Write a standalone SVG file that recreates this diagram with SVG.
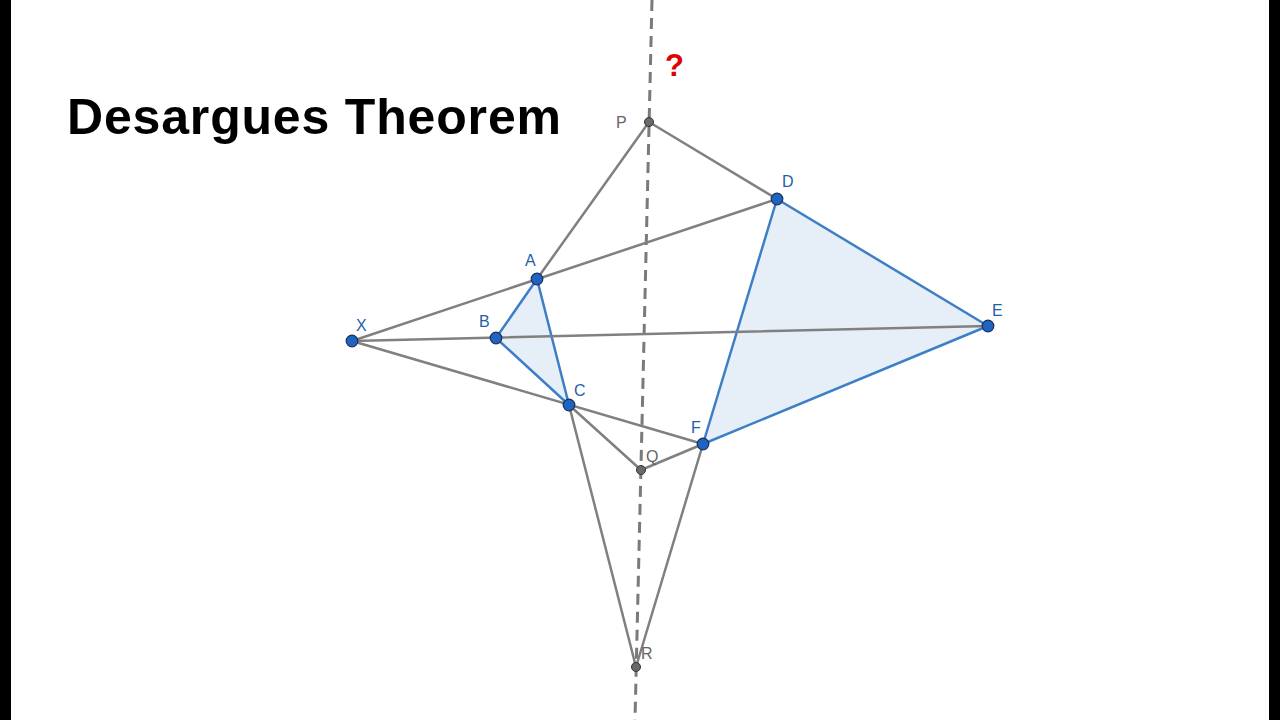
<svg xmlns="http://www.w3.org/2000/svg" width="1280" height="720" viewBox="0 0 1280 720">
  <style>
    .bg { fill: #ffffff; }
    .bar { fill: #000000; }
    .title { font-family: "Liberation Sans", Arial, sans-serif; font-weight: bold; font-size: 50px; fill: #000000; }
    .q { font-family: "Liberation Sans", Arial, sans-serif; font-weight: bold; font-size: 31px; fill: #e00000; }
    .tri { fill: #e6eef8; stroke: #3d7fc6; stroke-width: 2.5; stroke-linejoin: round; }
    .gl { stroke: #808080; stroke-width: 2.5; fill: none; stroke-linecap: round; }
    .dash { stroke: #7a7a7a; stroke-width: 3; stroke-dasharray: 11 7; fill: none; }
    .bp { fill: #1f63c3; stroke: #1a2f55; stroke-width: 1.2; }
    .gp { fill: #6a6a6a; stroke: #333333; stroke-width: 1; }
    .bl { font-family: "Liberation Sans", Arial, sans-serif; font-size: 16px; fill: #1f5fa8; }
    .gl-t { font-family: "Liberation Sans", Arial, sans-serif; font-size: 16px; fill: #666666; }
  </style>
  <rect class="bg" x="0" y="0" width="1280" height="720"/>
  <rect class="bar" x="0" y="0" width="11" height="720"/>
  <rect class="bar" x="1269" y="0" width="11" height="720"/>

  <text class="title" x="67" y="134" textLength="494">Desargues Theorem</text>
  <text class="q" x="665" y="76">?</text>

  <g id="triangles">
    <polygon id="triangle-ABC" class="tri" points="537,279 496,338 569,405"/>
    <polygon id="triangle-DEF" class="tri" points="777,199 988,326 703,444"/>
  </g>

  <g id="connectors">
    <line class="dash" x1="652" y1="0" x2="635" y2="720"/>
    <line class="gl" x1="352" y1="341" x2="777" y2="199"/>
    <line class="gl" x1="352" y1="341" x2="988" y2="326"/>
    <line class="gl" x1="352" y1="341" x2="703" y2="444"/>
    <line class="gl" x1="649" y1="122" x2="537" y2="279"/>
    <line class="gl" x1="649" y1="122" x2="777" y2="199"/>
    <line class="gl" x1="569" y1="405" x2="641" y2="470"/>
    <line class="gl" x1="703" y1="444" x2="641" y2="470"/>
    <line class="gl" x1="569" y1="405" x2="636" y2="667"/>
    <line class="gl" x1="703" y1="444" x2="636" y2="667"/>
  </g>

  <g id="node-P"><circle class="gp" cx="649" cy="122" r="4.5"/><text class="gl-t" x="616" y="128">P</text></g>
  <g id="node-Q"><circle class="gp" cx="641" cy="470" r="4.5"/><text class="gl-t" x="646" y="462">Q</text></g>
  <g id="node-R"><circle class="gp" cx="636" cy="667" r="4.5"/><text class="gl-t" x="641" y="659">R</text></g>

  <g id="node-X"><circle class="bp" cx="352" cy="341" r="5.8"/><text class="bl" x="356" y="331">X</text></g>
  <g id="node-A"><circle class="bp" cx="537" cy="279" r="5.8"/><text class="bl" x="525" y="266">A</text></g>
  <g id="node-B"><circle class="bp" cx="496" cy="338" r="5.8"/><text class="bl" x="479" y="327">B</text></g>
  <g id="node-C"><circle class="bp" cx="569" cy="405" r="5.8"/><text class="bl" x="574" y="396">C</text></g>
  <g id="node-D"><circle class="bp" cx="777" cy="199" r="5.8"/><text class="bl" x="782" y="187">D</text></g>
  <g id="node-E"><circle class="bp" cx="988" cy="326" r="5.8"/><text class="bl" x="992" y="316">E</text></g>
  <g id="node-F"><circle class="bp" cx="703" cy="444" r="5.8"/><text class="bl" x="691" y="433">F</text></g>
</svg>
